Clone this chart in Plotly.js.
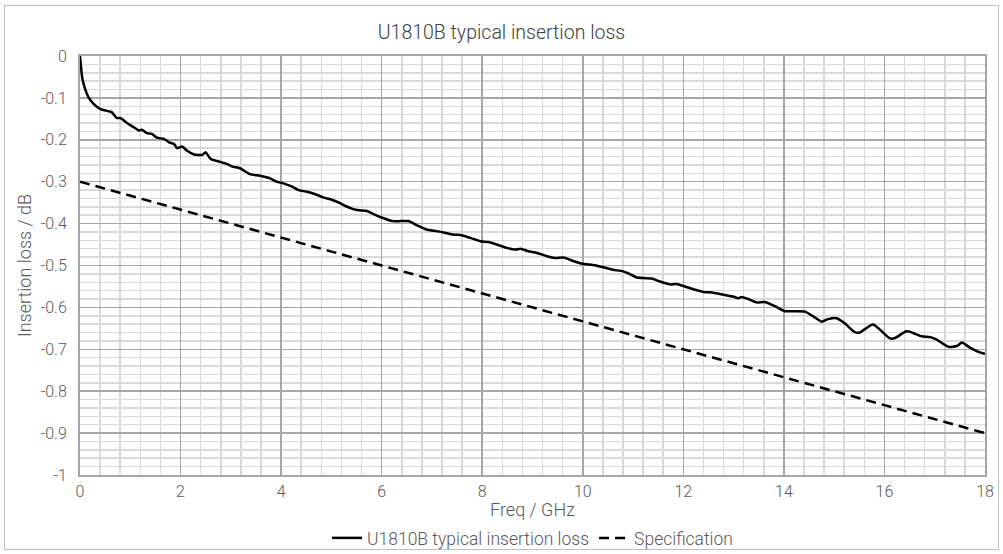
<!DOCTYPE html>
<html>
<head>
<meta charset="utf-8">
<script src="https://cdn.plot.ly/plotly-3.0.1.min.js"></script>
<style>
html,body{margin:0;padding:0;background:#fff;}
#wrap{position:relative;width:1003px;height:554px;}
#chart{position:absolute;left:0;top:0;width:1003px;height:554px;}
#frame{position:absolute;left:4px;top:5px;width:993px;height:543px;border:1px solid #bfbfbf;pointer-events:none;}
</style>
</head>
<body>
<div id="wrap"><div id="chart"></div><div id="frame"></div></div>
<script>
// Measured typical insertion loss (GHz, dB)
const freqGHz = [0, 0.047, 0.1, 0.167, 0.27, 0.4, 0.57, 0.63, 0.73, 0.8, 0.97, 1.07, 1.17, 1.23, 1.33, 1.43, 1.53, 1.67, 1.77, 1.87, 1.93, 2.03, 2.13, 2.27, 2.43, 2.5, 2.6, 2.77, 2.93, 3.03, 3.18, 3.38, 3.58, 3.78, 3.91, 4.05, 4.22, 4.35, 4.52, 4.68, 4.85, 4.98, 5.15, 5.28, 5.45, 5.55, 5.71, 5.85, 6.01, 6.21, 6.38, 6.53, 6.7, 6.89, 7.09, 7.23, 7.42, 7.59, 7.76, 7.96, 8.12, 8.29, 8.49, 8.66, 8.76, 8.92, 9.09, 9.29, 9.45, 9.62, 9.78, 10.0, 10.2, 10.4, 10.6, 10.8, 10.93, 11.06, 11.2, 11.37, 11.53, 11.73, 11.86, 12.03, 12.23, 12.4, 12.6, 12.8, 12.99, 13.09, 13.16, 13.29, 13.46, 13.62, 13.82, 14.02, 14.22, 14.42, 14.59, 14.75, 14.88, 15.05, 15.21, 15.41, 15.51, 15.61, 15.77, 15.91, 16.11, 16.21, 16.44, 16.57, 16.74, 16.91, 17.04, 17.27, 17.44, 17.54, 17.7, 17.87, 18.0];
const lossDB = [0, -0.054, -0.078, -0.098, -0.114, -0.126, -0.132, -0.134, -0.148, -0.148, -0.163, -0.170, -0.178, -0.176, -0.184, -0.186, -0.195, -0.198, -0.206, -0.210, -0.220, -0.216, -0.226, -0.235, -0.236, -0.230, -0.246, -0.252, -0.258, -0.264, -0.268, -0.282, -0.286, -0.292, -0.300, -0.304, -0.312, -0.320, -0.324, -0.330, -0.338, -0.342, -0.350, -0.358, -0.366, -0.368, -0.370, -0.378, -0.386, -0.394, -0.394, -0.394, -0.404, -0.414, -0.418, -0.421, -0.426, -0.428, -0.434, -0.442, -0.444, -0.450, -0.458, -0.462, -0.460, -0.466, -0.470, -0.478, -0.482, -0.481, -0.488, -0.496, -0.499, -0.504, -0.510, -0.514, -0.520, -0.528, -0.530, -0.531, -0.538, -0.545, -0.544, -0.550, -0.558, -0.563, -0.565, -0.570, -0.574, -0.578, -0.575, -0.580, -0.588, -0.587, -0.597, -0.609, -0.609, -0.610, -0.622, -0.634, -0.628, -0.626, -0.638, -0.659, -0.660, -0.652, -0.641, -0.653, -0.674, -0.673, -0.657, -0.661, -0.669, -0.671, -0.677, -0.694, -0.692, -0.684, -0.696, -0.706, -0.711];
// Specification limit
const specFreq = [0, 18];
const specDB = [-0.3, -0.9];
// Tick labels
const xTickVals = [0, 2, 4, 6, 8, 10, 12, 14, 16, 18];
const xTickText = ["0", "2", "4", "6", "8", "10", "12", "14", "16", "18"];
const yTickVals = [0, -0.1, -0.2, -0.3, -0.4, -0.5, -0.6, -0.7, -0.8, -0.9, -1];
const yTickText = ["0", "-0.1", "-0.2", "-0.3", "-0.4", "-0.5", "-0.6", "-0.7", "-0.8", "-0.9", "-1"];

const fontFam = "Roboto, 'Open Sans', sans-serif";
const txt = "#595959";
const major = "#a6a6a6";
const minor = "#d9d9d9";

const traces = [
  {x: freqGHz, y: lossDB, type: 'scatter', mode: 'lines', name: 'U1810B typical insertion loss',
   line: {color: '#000000', width: 2.5, shape: 'spline', smoothing: 0.6}},
  {x: specFreq, y: specDB, type: 'scatter', mode: 'lines', name: 'Specification',
   line: {color: '#000000', width: 2.5, dash: '10px,6px'}}
];

const layout = {
  width: 1003, height: 554,
  margin: {l: 80, r: 18, t: 56, b: 79, autoexpand: false},
  paper_bgcolor: '#ffffff', plot_bgcolor: '#ffffff',
  font: {family: fontFam, color: txt, size: 16, weight: 300},
  title: {text: 'U1810B typical insertion loss', x: 0.5, xanchor: 'center', y: 1 - 32/554, yanchor: 'middle',
          font: {family: fontFam, size: 19.5, color: '#404040', weight: 300}},
  xaxis: {
    range: [0, 18], tickmode: 'array', tickvals: xTickVals, ticktext: xTickText,
    automargin: false,
    showgrid: true, gridcolor: major, gridwidth: 1.5,
    minor: {dtick: 0.4, tick0: 0, showgrid: true, gridcolor: minor, gridwidth: 1.5, ticks: ''},
    showline: true, linecolor: major, linewidth: 2, mirror: true,
    zeroline: false, ticks: '', ticklabelstandoff: 1,
    tickfont: {size: 16, color: txt},
    title: {text: 'Freq / GHz', standoff: 5, font: {size: 18, color: txt}}
  },
  yaxis: {
    range: [-1, 0], tickmode: 'array', tickvals: yTickVals, ticktext: yTickText,
    automargin: false,
    showgrid: true, gridcolor: major, gridwidth: 1.5,
    minor: {dtick: 0.02, tick0: 0, showgrid: true, gridcolor: minor, gridwidth: 1.5, ticks: ''},
    showline: true, linecolor: major, linewidth: 2, mirror: true,
    zeroline: false, ticks: '', ticklabelstandoff: 8,
    tickfont: {size: 16, color: txt},
    title: {text: 'Insertion loss / dB', standoff: 4, font: {size: 18, color: txt}}
  },
  showlegend: true,
  legend: {orientation: 'h', x: 0.5, xanchor: 'center', yref: 'container', y: 1 - 538/554, yanchor: 'middle',
           font: {size: 17.5, color: txt}, itemwidth: 30, tracegroupgap: 0, bgcolor: 'rgba(0,0,0,0)'}
};

Plotly.newPlot('chart', traces, layout, {staticPlot: true, displayModeBar: false});
</script>
</body>
</html>
